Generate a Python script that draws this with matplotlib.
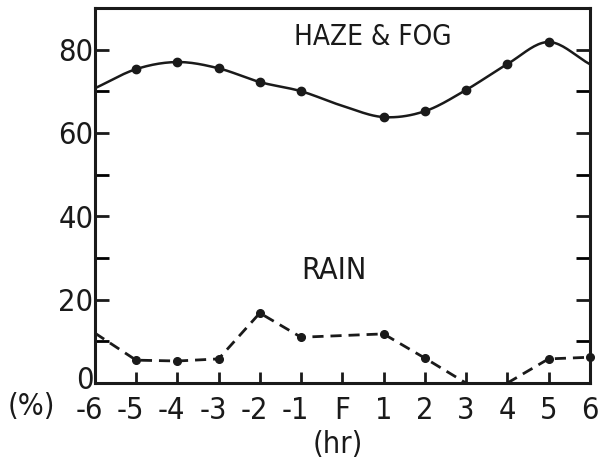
import numpy as np
import matplotlib.pyplot as plt
from matplotlib.ticker import MultipleLocator
from matplotlib.transforms import ScaledTranslation

hours = [-6, -5, -4, -3, -2, -1, 0, 1, 2, 3, 4, 5, 6]
hour_labels = ['-6', '-5', '-4', '-3', '-2', '-1', 'F', '1', '2', '3', '4', '5', '6']
haze_fog = [70.7, 75.3, 77.0, 75.5, 72.2, 70.0, 66.5, 63.8, 65.2, 70.3, 76.5, 81.8, 76.5]
rain = [12.0, 5.5, 5.3, 5.8, 16.8, 11.0, 11.4, 11.8, 6.0, 0.0, 0.0, 5.8, 6.2]
# hours with a dot drawn on them
haze_dots = [1, 2, 3, 4, 5, 7, 8, 9, 10, 11]
rain_dots = [1, 2, 3, 4, 5, 7, 8, 11, 12]

plt.rcParams['font.family'] = ['DejaVu Sans']
plt.rcParams['font.stretch'] = 'condensed'
ink = '#1a1a1a'


def smooth(x, y, n=20):
    # catmull-rom through the points, just for drawing the curve
    x = np.asarray(x, float)
    y = np.asarray(y, float)
    px = np.r_[2 * x[0] - x[1], x, 2 * x[-1] - x[-2]]
    py = np.r_[2 * y[0] - y[1], y, 2 * y[-1] - y[-2]]
    xs, ys = [], []
    t = np.linspace(0, 1, n, endpoint=False)
    for i in range(1, len(px) - 2):
        for p, out in ((px, xs), (py, ys)):
            p0, p1, p2, p3 = p[i - 1], p[i], p[i + 1], p[i + 2]
            out.extend(0.5 * (2 * p1 + (-p0 + p2) * t
                              + (2 * p0 - 5 * p1 + 4 * p2 - p3) * t ** 2
                              + (-p0 + 3 * p1 - 3 * p2 + p3) * t ** 3))
    xs.append(x[-1])
    ys.append(y[-1])
    return xs, ys


fig = plt.figure(figsize=(6.08, 4.61), dpi=100)
ax = fig.add_axes([0.156, 0.169, 0.814, 0.814])

sx, sy = smooth(hours, haze_fog)
ax.plot(sx, sy, color=ink, lw=1.8)
ax.plot([hours[i] for i in haze_dots], [haze_fog[i] for i in haze_dots],
        'o', color=ink, ms=6, ls='none')

ax.plot(hours[:10], rain[:10], color=ink, lw=2, dashes=(4, 2.5))
ax.plot(hours[10:], rain[10:], color=ink, lw=2, dashes=(4, 2.5))
ax.plot([hours[i] for i in rain_dots], [rain[i] for i in rain_dots],
        'o', color=ink, ms=5.5, ls='none', clip_on=False)

ax.set_xlim(-6, 6)
ax.set_ylim(0, 90)
ax.set_xticks(hours)
ax.set_xticklabels(hour_labels)
ax.set_yticks([0, 20, 40, 60, 80])
ax.yaxis.set_minor_locator(MultipleLocator(10))
ax.tick_params(direction='in', length=10, width=2, labelsize=22, pad=1,
               right=True, color=ink, labelcolor=ink)
ax.tick_params(which='minor', direction='in', length=10, width=2, right=True)
ax.tick_params(axis='x', length=8, pad=9)
# the digit sits on the tick, the minus sign hangs to the left
for lab in ax.get_xticklabels():
    if lab.get_text().startswith('-'):
        lab.set_transform(lab.get_transform() + ScaledTranslation(-4 / 72, 0, fig.dpi_scale_trans))
# lift the 0 a touch so it clears the -6 below it
zero = ax.get_yticklabels()[0]
zero.set_transform(zero.get_transform() + ScaledTranslation(0, 4 / 72, fig.dpi_scale_trans))
for s in ax.spines.values():
    s.set_linewidth(2.2)
    s.set_color(ink)

ax.text(0.75, 83, 'HAZE & FOG', ha='center', va='center', fontsize=20, color=ink)
ax.text(-0.2, 27, 'RAIN', ha='center', va='center', fontsize=22, color=ink)
fig.text(0.012, 0.118, '(%)', ha='left', va='center', fontsize=22, color=ink)
fig.text(0.555, 0.035, '(hr)', ha='center', va='center', fontsize=22, color=ink)

fig.savefig('out.png', dpi=100)
